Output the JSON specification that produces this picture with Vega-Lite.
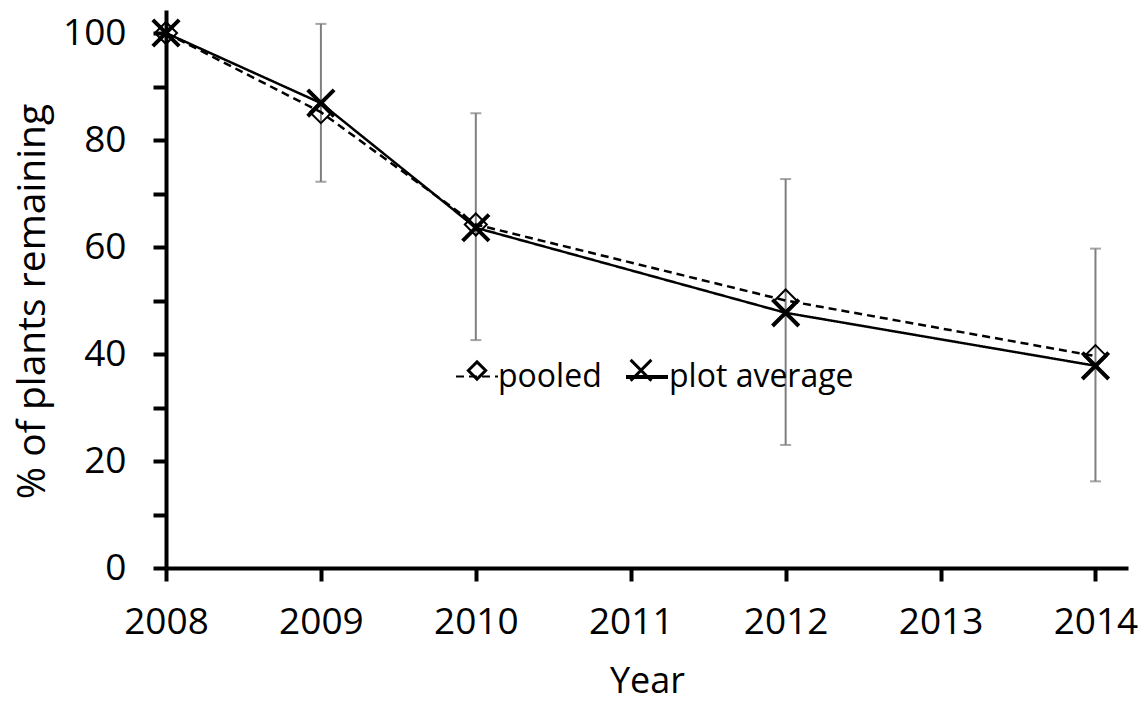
{
  "$schema": "https://vega.github.io/schema/vega-lite/v6.json",
  "autosize": "none",
  "width": 962,
  "height": 558,
  "padding": {"left": 166, "top": 10, "right": 18, "bottom": 136},
  "background": "white",
  "config": {
    "view": {"stroke": null},
    "font": "Open Sans",
    "axis": {
      "grid": false,
      "domainColor": "black",
      "domainWidth": 4,
      "tickColor": "black",
      "tickWidth": 4,
      "tickSize": 13,
      "labelColor": "black",
      "labelFont": "Open Sans",
      "labelFontSize": 37,
      "labelFlush": false,
      "labelOverlap": false,
      "titleFont": "Open Sans",
      "titleFontSize": 36,
      "titleFontWeight": "normal",
      "titleColor": "black"
    }
  },
  "datasets": {
    "series": [
      {"Year": 2008, "value": 100, "series": "pooled"},
      {"Year": 2009, "value": 85.2, "series": "pooled"},
      {"Year": 2010, "value": 64.2, "series": "pooled"},
      {"Year": 2012, "value": 50.0, "series": "pooled"},
      {"Year": 2014, "value": 39.6, "series": "pooled"},
      {"Year": 2008, "value": 100, "series": "plot average"},
      {"Year": 2009, "value": 86.9, "series": "plot average"},
      {"Year": 2010, "value": 63.6, "series": "plot average"},
      {"Year": 2012, "value": 47.7, "series": "plot average"},
      {"Year": 2014, "value": 37.8, "series": "plot average"}
    ],
    "errors": [
      {"Year": 2009, "lo": 72.2, "hi": 101.7},
      {"Year": 2010, "lo": 42.6, "hi": 85.0},
      {"Year": 2012, "lo": 23.0, "hi": 72.7},
      {"Year": 2014, "lo": 16.2, "hi": 59.7}
    ]
  },
  "layer": [
    {
      "data": {"name": "errors"},
      "mark": {"type": "rule", "color": "#7f7f7f", "strokeWidth": 2},
      "encoding": {
        "x": {"field": "Year", "type": "quantitative"},
        "y": {"field": "lo", "type": "quantitative"},
        "y2": {"field": "hi"}
      }
    },
    {
      "data": {"name": "errors"},
      "mark": {"type": "tick", "orient": "horizontal", "color": "#7f7f7f", "size": 11, "thickness": 2},
      "encoding": {
        "x": {"field": "Year", "type": "quantitative"},
        "y": {"field": "lo", "type": "quantitative"}
      }
    },
    {
      "data": {"name": "errors"},
      "mark": {"type": "tick", "orient": "horizontal", "color": "#7f7f7f", "size": 11, "thickness": 2},
      "encoding": {
        "x": {"field": "Year", "type": "quantitative"},
        "y": {"field": "hi", "type": "quantitative"}
      }
    },
    {
      "data": {"name": "series"},
      "mark": {"type": "line", "color": "black", "strokeWidth": 2.5},
      "encoding": {
        "x": {
          "field": "Year", "type": "quantitative",
          "scale": {"domain": [2008, 2014.21], "nice": false, "zero": false},
          "axis": {"values": [2008, 2009, 2010, 2011, 2012, 2013, 2014], "format": "d", "labelPadding": 23, "title": "Year", "titlePadding": 24}
        },
        "y": {
          "field": "value", "type": "quantitative",
          "scale": {"domain": [0, 104.3], "nice": false},
          "axis": {"values": [0, 10, 20, 30, 40, 50, 60, 70, 80, 90, 100], "labelExpr": "datum.value % 20 == 0 ? datum.label : ''", "labelPadding": 27, "title": "% of plants remaining", "titlePadding": 10, "titleFontSize": 39, "titleY": 291}
        },
        "strokeDash": {
          "field": "series", "type": "nominal",
          "scale": {"domain": ["pooled", "plot average"], "range": [[8, 5], [1, 0]]},
          "legend": {
            "orient": "none", "legendX": 289, "legendY": 344, "direction": "horizontal",
            "title": null, "symbolType": "stroke", "symbolSize": 1764, "symbolStrokeWidth": 2,
            "symbolStrokeColor": "black", "labelFontSize": 32, "labelFont": "Open Sans", "labelColor": "black",
            "labelOffset": -1, "labelLimit": 500, "columnPadding": 16, "padding": 0
          }
        }
      }
    },
    {
      "data": {"name": "series"},
      "mark": {"type": "point", "filled": false, "color": "black", "opacity": 1},
      "encoding": {
        "x": {"field": "Year", "type": "quantitative"},
        "y": {"field": "value", "type": "quantitative"},
        "shape": {
          "field": "series", "type": "nominal", "sort": ["pooled", "plot average"],
          "scale": {"range": ["diamond", "M-1.2,-1.2L1.2,1.2M-1.2,1.2L1.2,-1.2"]},
          "legend": {
            "orient": "none", "legendX": 295, "legendY": 344, "direction": "horizontal",
            "title": null, "symbolSize": 300, "symbolStrokeWidth": 3, "symbolStrokeColor": "black", "symbolFillColor": "transparent",
            "labelFontSize": 32, "labelFont": "Open Sans", "labelExpr": "''",
            "labelOffset": 0, "columnPadding": 131, "padding": 0
          }
        },
        "size": {"value": 484},
        "strokeWidth": {
          "field": "series", "type": "nominal",
          "scale": {"domain": ["pooled", "plot average"], "range": [2, 4]},
          "legend": null
        }
      }
    }
  ]
}
